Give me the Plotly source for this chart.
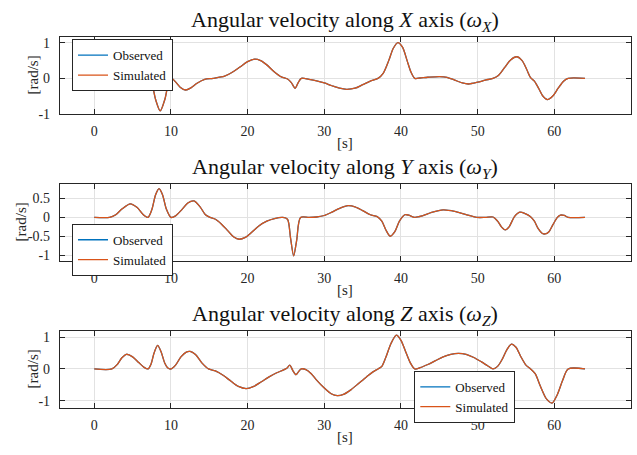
import plotly.graph_objects as go

# ---------------- data ----------------
t_x = [0, 2.2, 3.0, 3.6, 4.5, 5.5, 6.3, 7.0, 7.5, 8.0, 8.6, 9.2, 9.7, 10.1, 10.6,
       11.2, 11.9, 12.6, 13.4, 14.4, 15.5, 17.0, 18.0, 19.0, 20.0, 20.9, 21.7,
       22.5, 23.5, 24.4, 25.2, 25.7, 26.2, 26.6, 27.0, 28.0, 29.0, 30.0, 31.0,
       32.0, 32.9, 34.0, 35.0, 36.0, 37.0, 37.7, 38.4, 39.0, 39.6, 40.2, 40.8,
       41.3, 41.8, 42.5, 43.5, 45.0, 46.0, 47.0, 48.0, 48.8, 50.0, 51.0, 52.0,
       52.7, 53.5, 54.3, 55.1, 55.8, 56.4, 56.9, 57.4, 58.0, 58.5, 59.1, 59.8,
       60.5, 61.2, 61.8, 64.0]
obs_x = [0, 0, 0.05, 0.09, 0.05, -0.05, -0.02, 0.0, -0.15, -0.6, -0.92, -0.6, -0.12,
         0.0, -0.1, -0.25, -0.33, -0.27, -0.14, -0.03, 0.0, 0.06, 0.17, 0.32, 0.47,
         0.54, 0.5, 0.38, 0.18, 0.04, -0.02, -0.12, -0.28, -0.12, 0.0, -0.03, -0.07,
         -0.13, -0.21, -0.28, -0.31, -0.28, -0.18, -0.08, 0.0, 0.15, 0.5, 0.85, 1.01,
         0.88, 0.5, 0.18, 0.0, 0.01, 0.03, 0.05, 0.03, -0.05, -0.13, -0.16, -0.11,
         -0.05, 0.0, 0.08, 0.3, 0.52, 0.61, 0.5, 0.25, 0.02, -0.08, -0.3, -0.5, -0.6,
         -0.5, -0.28, -0.08, 0.0, 0.0]
sim_x = list(obs_x)

t_y = [0, 2.0, 2.8, 3.6, 4.7, 5.6, 6.4, 7.0, 7.5, 8.0, 8.45, 8.9, 9.4, 10.0, 10.6,
       11.4, 12.2, 13.0, 13.8, 14.5, 15.1, 15.8, 16.6, 17.4, 18.2, 18.9, 19.7,
       20.5, 21.5, 22.5, 23.5, 24.6, 25.2, 25.6, 26.0, 26.4, 26.9, 28.0, 29.0,
       30.0, 31.0, 32.0, 33.1, 34.0, 35.0, 36.0, 36.9, 37.5, 38.0, 38.6, 39.2,
       39.8, 40.5, 41.0, 41.8, 42.8, 44.0, 45.5, 47.0, 48.5, 49.9, 51.0, 52.0,
       52.6, 53.1, 53.6, 54.1, 54.8, 55.5, 56.2, 56.9, 57.4, 57.9, 58.4, 58.8,
       59.3, 59.8, 60.4, 60.8, 61.3, 61.8, 64.0]
obs_y = [0, 0, 0.07, 0.22, 0.36, 0.26, 0.07, 0.0, 0.2, 0.6, 0.76, 0.6, 0.22, 0.0,
         0.04, 0.2, 0.38, 0.435, 0.28, 0.07, 0.0, -0.05, -0.18, -0.35, -0.52, -0.58,
         -0.53, -0.4, -0.22, -0.1, -0.03, 0.0, -0.05, -0.55, -1.02, -0.6, 0.0, 0.0,
         0.01, 0.05, 0.14, 0.24, 0.31, 0.28, 0.18, 0.07, 0.02, -0.1, -0.32, -0.5,
         -0.38, -0.1, 0.07, 0.06, 0.0, 0.04, 0.13, 0.2, 0.16, 0.07, 0.0, 0.0, 0.01,
         -0.1, -0.25, -0.33, -0.25, 0.02, 0.14, 0.1, 0.02, -0.1, -0.3, -0.42, -0.44,
         -0.38, -0.2, 0.0, 0.06, 0.05, 0.0, 0.0]
sim_y = list(obs_y)

t_z = [0, 2.3, 3.0, 3.6, 4.2, 5.0, 5.8, 6.5, 7.0, 7.4, 7.8, 8.26, 8.7, 9.2, 9.6,
       10.0, 10.6, 11.3, 12.0, 12.5, 13.2, 14.0, 14.9, 15.8, 16.8, 17.8, 18.8,
       19.8, 20.8, 21.8, 22.8, 23.8, 24.6, 25.1, 25.5, 25.9, 26.3, 26.6, 27.0,
       27.6, 28.3, 29.0, 30.0, 30.9, 31.7, 32.5, 33.5, 34.5, 35.5, 36.3, 37.0,
       37.5, 38.0, 38.7, 39.4, 40.0, 40.6, 41.2, 41.8, 42.5, 43.5, 44.5, 45.5,
       46.5, 47.5, 48.5, 49.5, 50.5, 51.3, 52.0, 52.6, 53.2, 53.8, 54.4, 55.0,
       55.6, 56.3, 56.9, 57.5, 58.2, 59.0, 59.7, 60.4, 61.1, 61.8, 64.0]
obs_z = [0, 0, 0.14, 0.35, 0.46, 0.38, 0.2, 0.05, 0.0, 0.15, 0.5, 0.74, 0.55, 0.18,
         0.03, 0.0, 0.12, 0.38, 0.53, 0.55, 0.45, 0.2, 0.0, -0.06, -0.2, -0.38,
         -0.55, -0.62, -0.55, -0.4, -0.25, -0.12, -0.04, 0.02, 0.12, -0.05, -0.18,
         -0.1, 0.0, -0.02, -0.15, -0.35, -0.6, -0.78, -0.84, -0.8, -0.65, -0.45,
         -0.25, -0.1, 0.0, 0.08, 0.35, 0.8, 1.06, 0.9, 0.55, 0.2, 0.0, 0.04, 0.14,
         0.26, 0.38, 0.46, 0.49, 0.46, 0.36, 0.22, 0.1, 0.0, 0.08, 0.3, 0.6, 0.78,
         0.68, 0.4, 0.12, 0.0, -0.15, -0.55, -0.95, -1.07, -0.8, -0.35, 0.0, 0.0]
sim_z = list(obs_z)

x_ticks = [0, 10, 20, 30, 40, 50, 60, 70]
y_ticks_x = [-1, 0, 1]
y_ticks_y = [-1, -0.5, 0, 0.5]
y_ticks_z = [-1, 0, 1]
titles = ["Angular velocity along <i>X</i> axis (<i>ω</i><sub><i>X</i></sub>)",
          "Angular velocity along <i>Y</i> axis (<i>ω</i><sub><i>Y</i></sub>)",
          "Angular velocity along <i>Z</i> axis (<i>ω</i><sub><i>Z</i></sub>)"]
xlabel = "[s]"
ylabel = "[rad/s]"
names = ["Observed", "Simulated"]

# ---------------- styling / layout ----------------
W, H = 637, 455
FONT = "Liberation Serif"
AX = "#262626"
GRID = "#e2e2e2"
C_OBS = "#0072BD"
C_SIM = "#D95319"

def px2x(p):
    return p / W

def px2y(p):
    return 1 - p / H

# plot areas in pixels: (top, bottom)
panels = [(37, 115), (186.7, 265), (336.7, 415)]
xl, xr = 60, 631
yranges = [[-1.0, 1.16], [-1.15, 0.885], [-1.22, 1.19]]
yticks = [y_ticks_x, y_ticks_y, y_ticks_z]
series = [(t_x, obs_x, sim_x), (t_y, obs_y, sim_y), (t_z, obs_z, sim_z)]
legend_pos = [(72, 39), (72, 227.3), (414.3, 377.3)]
title_y = [20, 170, 320]
ylabel_x = [33, 21, 33]

fig = go.Figure()
layout = dict(width=W, height=H, margin=dict(l=0, r=0, t=0, b=0),
              paper_bgcolor="white", plot_bgcolor="white",
              font=dict(family=FONT, color=AX), showlegend=True)
annotations = []

for i in range(3):
    sfx = "" if i == 0 else str(i + 1)
    t, o, s = series[i]
    leg = "legend" if i == 0 else f"legend{i+1}"
    fig.add_trace(go.Scatter(x=t, y=o, mode="lines", name=names[0],
                             line=dict(color=C_OBS, width=1.3, shape="spline", smoothing=0.8),
                             xaxis="x" + sfx, yaxis="y" + sfx, legend=leg))
    fig.add_trace(go.Scatter(x=t, y=s, mode="lines", name=names[1],
                             line=dict(color=C_SIM, width=1.3, shape="spline", smoothing=0.8),
                             xaxis="x" + sfx, yaxis="y" + sfx, legend=leg))
    top, bot = panels[i]
    layout["xaxis" + sfx] = dict(domain=[px2x(xl), px2x(xr)], range=[-4.47, 70],
                                 anchor="y" + sfx, tickvals=x_ticks,
                                 ticktext=[str(v) for v in x_ticks],
                                 showline=True, linecolor=AX, linewidth=1.2, mirror="ticks",
                                 ticks="inside", ticklen=5, tickcolor=AX, tickwidth=1.2,
                                 showgrid=True, gridcolor=GRID, gridwidth=1, zeroline=False,
                                 tickfont=dict(family=FONT, size=14, color=AX),
                                 ticklabelstandoff=4, fixedrange=True)
    layout["yaxis" + sfx] = dict(domain=[px2y(bot), px2y(top)], range=yranges[i],
                                 anchor="x" + sfx, tickvals=yticks[i],
                                 ticktext=[("%g" % v) for v in yticks[i]],
                                 showline=True, linecolor=AX, linewidth=1.2, mirror="ticks",
                                 ticks="inside", ticklen=5, tickcolor=AX, tickwidth=1.2,
                                 showgrid=True, gridcolor=GRID, gridwidth=1, zeroline=False,
                                 tickfont=dict(family=FONT, size=14, color=AX),
                                 ticklabelstandoff=6, fixedrange=True)
    lx, ly = legend_pos[i]
    layout[leg] = dict(x=px2x(lx), y=px2y(ly), xanchor="left", yanchor="top",
                       bgcolor="white", bordercolor=AX, borderwidth=1,
                       font=dict(family=FONT, size=13, color="#111111"),
                       tracegroupgap=0, itemwidth=30)
    annotations.append(dict(text=titles[i], x=px2x((xl + xr) / 2), y=px2y(title_y[i]),
                            xref="paper", yref="paper", xanchor="center", yanchor="middle",
                            showarrow=False, font=dict(family=FONT, size=22, color="#111111")))
    annotations.append(dict(text=xlabel, x=px2x(345), y=px2y(bot + 30),
                            xref="paper", yref="paper", xanchor="center", yanchor="middle",
                            showarrow=False, font=dict(family=FONT, size=15, color=AX)))
    annotations.append(dict(text=ylabel, x=px2x(ylabel_x[i]), y=px2y((top + bot) / 2),
                            xref="paper", yref="paper", xanchor="center", yanchor="middle",
                            textangle=-90, showarrow=False,
                            font=dict(family=FONT, size=15, color=AX)))

layout["annotations"] = annotations
fig.update_layout(**layout)
fig.write_html("out.html")
